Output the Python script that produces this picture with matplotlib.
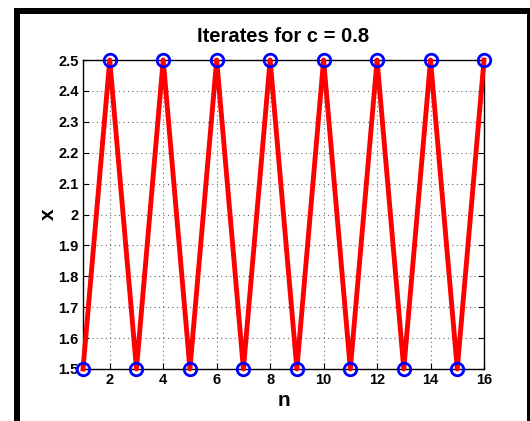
import matplotlib
matplotlib.use("Agg")
import matplotlib.pyplot as plt
from matplotlib.patches import Rectangle

n = list(range(1, 17))
x_vals = [1.5, 2.5, 1.5, 2.5, 1.5, 2.5, 1.5, 2.5, 1.5, 2.5, 1.5, 2.5, 1.5, 2.5, 1.5, 2.5]
xticks = [2, 4, 6, 8, 10, 12, 14, 16]
yticks = [1.5, 1.6, 1.7, 1.8, 1.9, 2.0, 2.1, 2.2, 2.3, 2.4, 2.5]
ytick_labels = ["1.5", "1.6", "1.7", "1.8", "1.9", "2", "2.1", "2.2", "2.3", "2.4", "2.5"]

plt.rcParams['font.family'] = ['Liberation Sans', 'DejaVu Sans']

W, H = 530, 421
fig = plt.figure(figsize=(W / 100, H / 100), dpi=100)
fig.patch.set_facecolor('white')

# black frame (left, top, right)
def px_rect(x0, y0, x1, y1):
    return Rectangle((x0 / W, 1 - y1 / H), (x1 - x0) / W, (y1 - y0) / H,
                     transform=fig.transFigure, facecolor='black', edgecolor='none', zorder=0)

fig.patches.append(px_rect(14, 8, 20, 421))
fig.patches.append(px_rect(14, 8, 530, 14))
fig.patches.append(px_rect(527, 8, 530, 421))

ax = fig.add_axes([83 / W, 1 - 369 / H, (484 - 83) / W, (369 - 60) / H])
ax.plot(n, x_vals, color='red', lw=3.5, zorder=3, clip_on=False)
ax.plot(n, x_vals, 'o', color='blue', mfc='none', ms=9, mew=2, zorder=4, clip_on=False)

ax.set_xlim(1, 16)
ax.set_ylim(1.5, 2.5)
ax.set_xticks(xticks)
ax.set_yticks(yticks)
ax.set_yticklabels(ytick_labels)
ax.grid(True, linestyle=(0, (1, 3)), color='#666666', linewidth=0.8)
ax.tick_params(direction='in', top=True, right=True, length=4, width=0.8,
               labelsize=10.5, pad=3)
for lab in ax.get_xticklabels() + ax.get_yticklabels():
    lab.set_fontweight('bold')
for s in ax.spines.values():
    s.set_linewidth(1.0)

ax.set_title('Iterates for c = 0.8', fontsize=14.5, fontweight='bold', pad=13)
ax.set_xlabel('n', fontsize=15, fontweight='bold', labelpad=3)
ax.set_ylabel('x', fontsize=15, fontweight='bold', labelpad=0, rotation=90)

fig.savefig('out.png', dpi=100)
